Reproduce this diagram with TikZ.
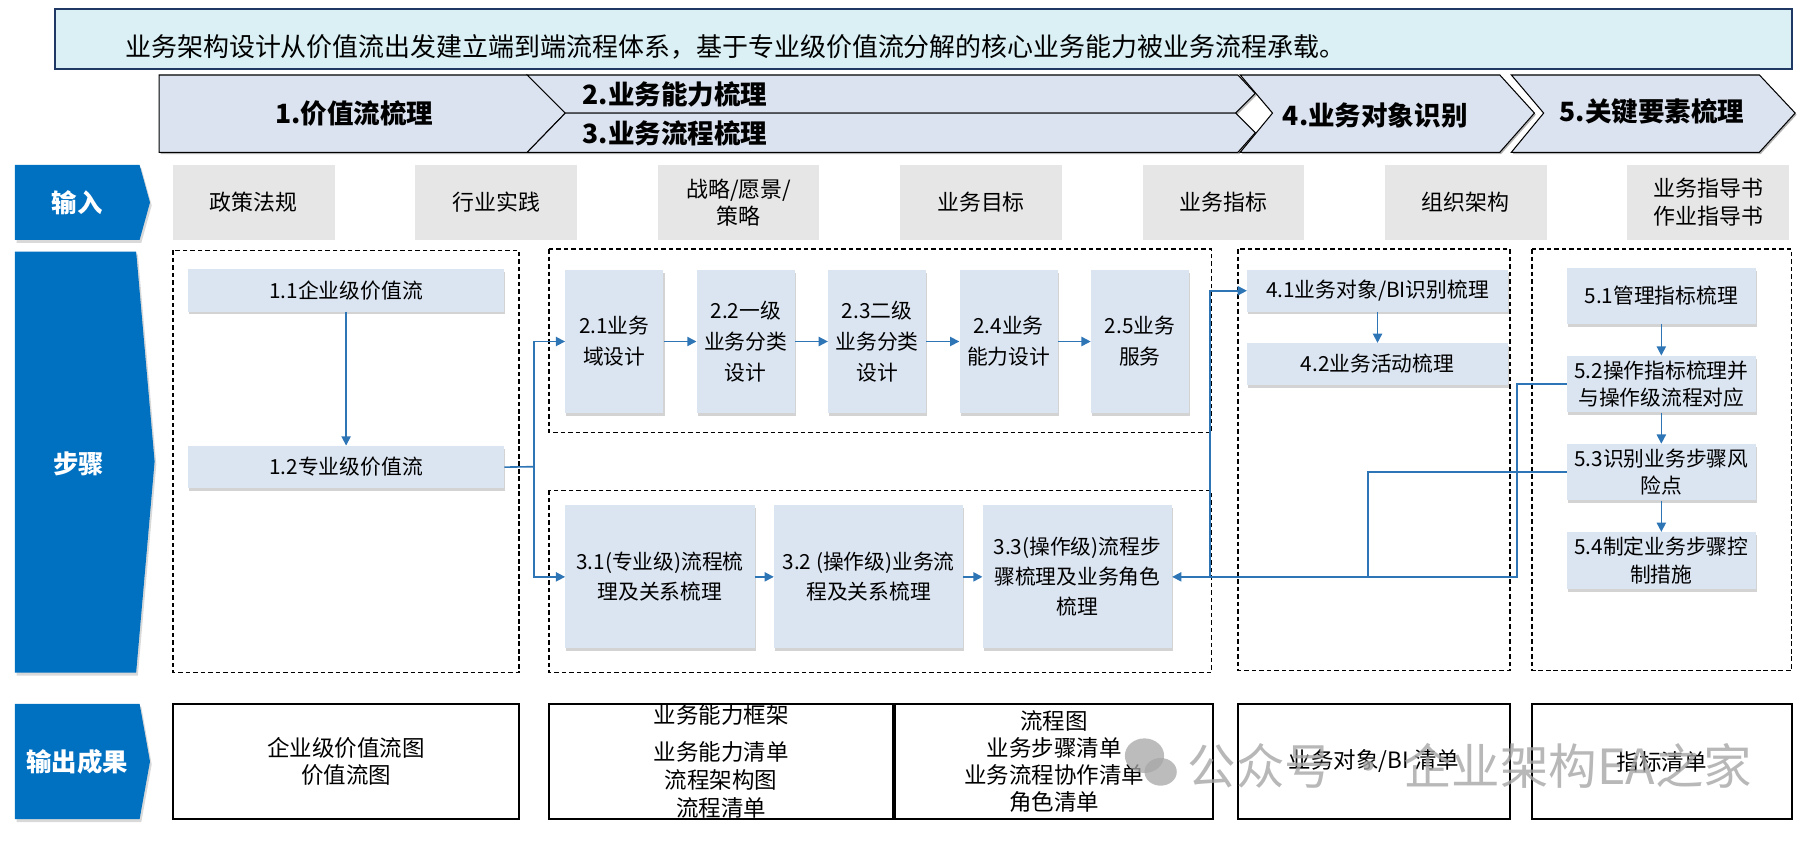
\documentclass[tikz,border=0pt]{standalone}
\usepackage{fontspec}
\setmainfont{Noto Sans CJK SC}
\usetikzlibrary{arrows.meta, positioning, shadows}

\definecolor{bannerfill}{RGB}{218,240,245}
\definecolor{bannerline}{RGB}{31,56,100}
\definecolor{phasefill}{RGB}{220,227,240}
\definecolor{rowblue}{RGB}{0,112,192}
\definecolor{inputgray}{RGB}{231,230,230}
\definecolor{stepfill}{RGB}{219,228,241}
\definecolor{linkblue}{RGB}{46,117,182}

\begin{document}
\begin{tikzpicture}[
	  x=1pt, y=-1pt,
	  phase/.style={draw=black, line width=0.9pt, fill=phasefill, drop shadow={shadow xshift=1.2pt, shadow yshift=-1.5pt, opacity=0.6}},
	  phasetext/.style={font=\bfseries\fontsize{23}{27}\selectfont},
	  rowtag/.style={fill=rowblue, drop shadow={shadow xshift=1.5pt, shadow yshift=-2.5pt, opacity=0.3}},
	  rowtext/.style={text=white, font=\bfseries\fontsize{22}{26}\selectfont},
	  inbox/.style={fill=inputgray, minimum width=140pt, minimum height=65pt, inner sep=0pt, align=center, font=\fontsize{19}{24}\selectfont},
	  stepbox/.style={fill=stepfill, inner sep=0pt, align=center, font=\fontsize{18}{26}\selectfont, drop shadow={shadow xshift=1pt, shadow yshift=-2.5pt, opacity=0.35}},
	  tallbox/.style={stepbox, minimum width=85pt, minimum height=124pt, font=\fontsize{18}{27}\selectfont},
	  widebox/.style={stepbox, minimum width=164pt, minimum height=124pt},
	  keybox/.style={stepbox, minimum width=164pt, minimum height=49pt, font=\fontsize{18}{24}\selectfont},
	  stagebox/.style={draw=black, dash pattern=on 4pt off 2.5pt, line width=1.3pt},
	  outbox/.style={draw=black, line width=1.6pt, minimum height=100pt, inner sep=0pt, align=center, font=\fontsize{19.5}{24}\selectfont},
	  link/.style={draw=linkblue, line width=1.4pt, -{Triangle[length=8pt, width=8pt]}},
	  wire/.style={draw=linkblue, line width=1.4pt}
	]
	\useasboundingbox (0,0) rectangle (1568,732);

	\node (banner) [draw=bannerline, line width=1.6pt, fill=bannerfill, minimum width=1505pt, minimum height=52pt, inner sep=0pt] at (800.5,34) {};
	\node (headline) [anchor=west, font=\fontsize{22.5}{26}\selectfont] at (105,41) {业务架构设计从价值流出发建立端到端流程体系，基于专业级价值流分解的核心业务能力被业务流程承载。};

	\path [phase] (138,65) -- (457,65) -- (490,98) -- (457,132) -- (138,132) -- cycle;
	\path [phase] (457,65) -- (1073,65) -- (1088,81) -- (1071,98) -- (490,98) -- cycle;
	\path [phase] (490,98) -- (1071,98) -- (1088,115) -- (1073,132) -- (457,132) -- cycle;
	\path [phase] (1075,65) -- (1300,65) -- (1330,98) -- (1300,132) -- (1075,132) -- (1103,98) -- cycle;
	\path [phase] (1310,65) -- (1525,65) -- (1556,98) -- (1525,132) -- (1310,132) -- (1338,98) -- cycle;
	\node (p1) [phasetext] at (307,98) {1.价值流梳理};
	\node (p2) [phasetext] at (585,82) {2.业务能力梳理};
	\node (p3) [phasetext] at (585,116) {3.业务流程梳理};
	\node (p4) [phasetext] at (1192,100) {4.业务对象识别};
	\node (p5) [phasetext] at (1432,97) {5.关键要素梳理};

	\path [rowtag] (13,143) -- (121,143) -- (130,175.5) -- (121,208) -- (13,208) -- cycle;
	\path [rowtag] (13,218) -- (118,218) -- (134,400) -- (118,583) -- (13,583) -- cycle;
	\path [rowtag] (13,610) -- (121,610) -- (130,660) -- (121,710) -- (13,710) -- cycle;
	\node (tin) [rowtext] at (67,175.5) {输入};
	\node (tstep) [rowtext] at (68,402) {步骤};
	\node (tout) [rowtext] at (67,660) {输出成果};

	\node (in1) [inbox] at (220,175.5) {政策法规};
	\node (in2) [inbox, right=69.7pt of in1] {行业实践};
	\node (in3) [inbox, right=69.7pt of in2] {战略/愿景/\\策略};
	\node (in4) [inbox, right=69.7pt of in3] {业务目标};
	\node (in5) [inbox, right=69.7pt of in4] {业务指标};
	\node (in6) [inbox, right=69.7pt of in5] {组织架构};
	\node (in7) [inbox, right=69.7pt of in6] {业务指导书\\作业指导书};

	\draw [stagebox] (150,217) rectangle (450,583);
	\draw [stagebox] (476,216) rectangle (1050,375);
	\draw [stagebox] (476,425) rectangle (1050,583);
	\draw [stagebox] (1073,216) rectangle (1309,581);
	\draw [stagebox] (1328,216) rectangle (1553,581);

	\node (s11) [stepbox, minimum width=274pt, minimum height=37pt] at (300,251.5) {1.1企业级价值流};
	\node (s12) [stepbox, minimum width=274pt, minimum height=37pt, below=116pt of s11] {1.2专业级价值流};

	\node (s21) [tallbox] at (532.5,296) {2.1业务\\域设计};
	\node (s22) [tallbox, right=28.5pt of s21] {2.2一级\\业务分类\\设计};
	\node (s23) [tallbox, right=28.5pt of s22] {2.3二级\\业务分类\\设计};
	\node (s24) [tallbox, right=28.5pt of s23] {2.4业务\\能力设计};
	\node (s25) [tallbox, right=28.5pt of s24] {2.5业务\\服务};

	\node (s31) [widebox] at (572,500) {3.1(专业级)流程梳\\理及关系梳理};
	\node (s32) [widebox, right=16.5pt of s31] {3.2 (操作级)业务流\\程及关系梳理};
	\node (s33) [widebox, right=16.5pt of s32] {3.3(操作级)流程步\\骤梳理及业务角色\\梳理};

	\node (s41) [stepbox, minimum width=226pt, minimum height=36pt] at (1194,252) {4.1业务对象/BI识别梳理};
	\node (s42) [stepbox, minimum width=226pt, minimum height=36pt, below=27pt of s41] {4.2业务活动梳理};

	\node (s51) [keybox] at (1440,256.5) {5.1管理指标梳理};
	\node (s52) [keybox, below=27pt of s51] {5.2操作指标梳理并\\与操作级流程对应};
	\node (s53) [keybox, below=27pt of s52] {5.3识别业务步骤风\\险点};
	\node (s54) [keybox, below=27pt of s53] {5.4制定业务步骤控\\制措施};

	\coordinate (j1) at (463,404.5);
	\coordinate (j2) at (1315,500);
	\coordinate (j3) at (1186,500);
	\coordinate (j4) at (1049,500);

	\draw [link] (s11) -- (s12);
	\draw [wire] (s12.east) -- (j1);
	\draw [link] (j1) |- (s21);
	\draw [link] (j1) |- (s31);
	\foreach \a/\b in {s21/s22, s22/s23, s23/s24, s24/s25, s31/s32, s32/s33, s41/s42, s51/s52, s52/s53, s53/s54}
	  \draw [link] (\a) -- (\b);
	\draw [link] (s52.west) -| (j2) -- (s33.east);
	\draw [wire] (s53.west) -| (j3);
	\draw [link] (j4) |- (s41);

	\node (o1) [outbox, minimum width=300pt] at (300,660) {企业级价值流图\\价值流图};
	\node (o2) [outbox, minimum width=298pt] at (625,660) {业务能力框架\\[8pt]业务能力清单\\流程架构图\\流程清单};
	\node (o3) [outbox, minimum width=276pt, right=0pt of o2, font=\fontsize{19.5}{23.5}\selectfont] {流程图\\业务步骤清单\\业务流程协作清单\\角色清单};
	\node (o4) [outbox, minimum width=236pt] at (1191,660) {业务对象/BI 清单};
	\node (o5) [outbox, minimum width=225pt] at (1440.5,660) {指标清单};

	\fill [black!35, opacity=0.75] (992,655) ellipse (17 and 15);
	\fill [black!35, opacity=0.75] (1006,669) ellipse (14 and 12);
	\node (mark) [anchor=west, text=black!35, opacity=0.8, font=\fontsize{42}{46}\selectfont] at (1026,664) {公众号 · 企业架构EA之家};

	\end{tikzpicture}
\end{document}
